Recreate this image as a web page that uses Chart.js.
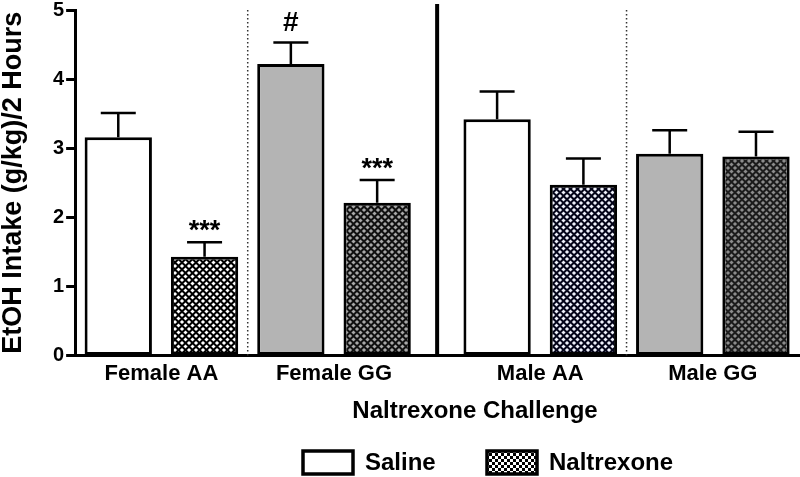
<!DOCTYPE html>
<html>
<head>
<meta charset="utf-8">
<script src="https://cdn.jsdelivr.net/npm/chart.js@4.4.1/dist/chart.umd.min.js"></script>
<style>
  html, body { margin: 0; padding: 0; background: #fff; }
  #wrap { width: 800px; height: 477px; }
</style>
</head>
<body>
<div id="wrap"><canvas id="chart"></canvas></div>
<script>
// values (g/kg per 2 h, mean and SEM)
const categories = ['Female AA', 'Female GG', 'Male AA', 'Male GG'];
const seriesNames = ['Saline', 'Naltrexone'];
const salineMeans = [3.16, 4.22, 3.42, 2.92];
const salineSem = [0.35, 0.31, 0.40, 0.34];
const naltrexoneMeans = [1.43, 2.21, 2.47, 2.88];
const naltrexoneSem = [0.21, 0.33, 0.38, 0.36];
const salineMarks = ['', '#', '', ''];
const naltrexoneMarks = ['***', '***', '', ''];
const yTicks = [0, 1, 2, 3, 4, 5];

const FONT = '"Liberation Sans", Arial, Helvetica, sans-serif';
const SEX_GAP = 0.39; // extra room between the female and male halves

// each group holds two bars side by side, males shifted right by the gap
function barX(group, series) {
    return group * 2 + series + (group >= 2 ? SEX_GAP : 0);
}
function groupCenter(group) {
    return (barX(group, 0) + barX(group, 1)) / 2;
}

function diamondPattern(lineColor, diamondColor) {
    const s = 7;
    const c = document.createElement('canvas');
    c.width = s; c.height = s;
    const g = c.getContext('2d');
    g.fillStyle = lineColor;
    g.fillRect(0, 0, s, s);
    g.fillStyle = diamondColor;
    const r = 2.1;
    [[s / 2, s / 2], [0, 0], [s, 0], [0, s], [s, s]].forEach(([cx, cy]) => {
        g.beginPath();
        g.moveTo(cx, cy - r);
        g.lineTo(cx + r, cy);
        g.lineTo(cx, cy + r);
        g.lineTo(cx - r, cy);
        g.closePath();
        g.fill();
    });
    return g.createPattern(c, 'repeat');
}

function checkerPattern() {
    const s = 6;
    const c = document.createElement('canvas');
    c.width = s; c.height = s;
    const g = c.getContext('2d');
    g.fillStyle = '#fff';
    g.fillRect(0, 0, s, s);
    g.fillStyle = '#000';
    g.fillRect(0, 0, 3, 3);
    g.fillRect(3, 3, 3, 3);
    return g.createPattern(c, 'repeat');
}

const salineFills = ['#ffffff', '#b4b4b4', '#ffffff', '#b4b4b4'];
const naltrexoneFills = [
    diamondPattern('#000000', '#ffffff'),
    diamondPattern('#111111', '#a8a8a8'),
    diamondPattern('#05051a', '#eef0fa'),
    diamondPattern('#1c1c1c', '#8c8c8c')
];

const sems = [salineSem, naltrexoneSem];
const means = [salineMeans, naltrexoneMeans];
const marks = [salineMarks, naltrexoneMarks];

const dividerPlugin = {
    id: 'dividers',
    beforeDatasetsDraw(chart) {
        const { ctx, chartArea, scales } = chart;
        const x = scales.x;
        ctx.save();
        // dotted lines between genotypes inside each sex
        ctx.strokeStyle = '#333';
        ctx.lineWidth = 1.5;
        ctx.setLineDash([1.5, 2.5]);
        [0, 2].forEach(g => {
            const px = x.getPixelForValue((barX(g, 1) + barX(g + 1, 0)) / 2);
            ctx.beginPath();
            ctx.moveTo(px, chartArea.top);
            ctx.lineTo(px, chartArea.bottom);
            ctx.stroke();
        });
        ctx.restore();
    },
    afterDraw(chart) {
        const { ctx, chartArea, scales } = chart;
        const px = scales.x.getPixelForValue((barX(1, 1) + barX(2, 0)) / 2);
        ctx.save();
        ctx.strokeStyle = '#000';
        ctx.lineWidth = 4;
        ctx.beginPath();
        ctx.moveTo(px, chartArea.top - 6);
        ctx.lineTo(px, chartArea.bottom + 1);
        ctx.stroke();
        ctx.restore();
    }
};

const errorBarPlugin = {
    id: 'errorBars',
    afterDatasetsDraw(chart) {
        const { ctx, scales } = chart;
        const y = scales.y;
        ctx.save();
        ctx.strokeStyle = '#000';
        ctx.lineWidth = 2.5;
        ctx.fillStyle = '#000';
        ctx.textAlign = 'center';
        chart.data.datasets.forEach((ds, d) => {
            const meta = chart.getDatasetMeta(d);
            meta.data.forEach((bar, i) => {
                const top = y.getPixelForValue(means[d][i] + sems[d][i]);
                const half = bar.width * 0.26;
                ctx.beginPath();
                ctx.moveTo(bar.x, bar.y);
                ctx.lineTo(bar.x, top);
                ctx.moveTo(bar.x - half, top);
                ctx.lineTo(bar.x + half, top);
                ctx.stroke();
                const txt = marks[d][i];
                if (txt) {
                    ctx.font = 'bold ' + (txt === '#' ? 28 : 27) + 'px ' + FONT;
                    ctx.textBaseline = 'alphabetic';
                    const m = ctx.measureText(txt);
                    ctx.fillText(txt, bar.x, top - 11 - m.actualBoundingBoxDescent);
                }
            });
        });
        ctx.restore();
    }
};

const bottomPlugin = {
    id: 'bottomText',
    afterDraw(chart) {
        const { ctx } = chart;
        ctx.save();
        ctx.fillStyle = '#000';
        ctx.textBaseline = 'middle';
        ctx.textAlign = 'center';
        ctx.font = 'bold 24px ' + FONT;
        ctx.fillText('Naltrexone Challenge', 475, 411);

        // legend
        const boxes = [
            { x: 303, fill: '#ffffff', label: seriesNames[0] },
            { x: 487, fill: checkerPattern(), label: seriesNames[1] }
        ];
        ctx.textAlign = 'left';
        boxes.forEach(b => {
            ctx.fillStyle = b.fill;
            ctx.fillRect(b.x, 451, 50, 23);
            ctx.strokeStyle = '#000';
            ctx.lineWidth = 3.5;
            ctx.strokeRect(b.x, 451, 50, 23);
            ctx.fillStyle = '#000';
            ctx.fillText(b.label, b.x + 62, 463);
        });
        ctx.restore();
    }
};

new Chart(document.getElementById('chart'), {
    type: 'bar',
    data: {
        datasets: [
            {
                label: seriesNames[0],
                data: categories.map((c, i) => ({ x: barX(i, 0), y: salineMeans[i] })),
                backgroundColor: salineFills,
                borderColor: '#000',
                borderWidth: 3,
                borderSkipped: false
            },
            {
                label: seriesNames[1],
                data: categories.map((c, i) => ({ x: barX(i, 1), y: naltrexoneMeans[i] })),
                backgroundColor: naltrexoneFills,
                borderColor: '#000',
                borderWidth: 3,
                borderSkipped: false
            }
        ]
    },
    options: {
        responsive: true,
        maintainAspectRatio: false,
        animation: false,
        grouped: false,
        barPercentage: 0.78,
        categoryPercentage: 1,
        layout: { padding: { top: 0, right: 0, bottom: 85, left: 0 } },
        plugins: {
            legend: { display: false },
            tooltip: { enabled: false }
        },
        scales: {
            x: {
                type: 'linear',
                offset: false,
                min: -0.5,
                max: 7.9,
                afterBuildTicks: (scale) => {
                    scale.ticks = categories.map((c, i) => ({ value: groupCenter(i) }));
                },
                ticks: {
                    autoSkip: false,
                    maxRotation: 0,
                    padding: 5,
                    color: '#000',
                    font: { family: FONT, size: 22, weight: 'bold' },
                    callback: (v, i) => categories[i]
                },
                grid: { display: true, drawOnChartArea: false, drawTicks: false },
                border: { color: '#000', width: 3 }
            },
            y: {
                min: 0,
                max: 5,
                afterBuildTicks: (scale) => {
                    scale.ticks = yTicks.map(v => ({ value: v }));
                },
                ticks: {
                    padding: 2,
                    color: '#000',
                    font: { family: FONT, size: 20, weight: 'bold', lineHeight: 0.8 }
                },
                grid: {
                    drawOnChartArea: false,
                    tickLength: 9,
                    tickColor: '#000',
                    tickWidth: 3
                },
                border: { color: '#000', width: 3 },
                title: {
                    display: true,
                    text: 'EtOH Intake (g/kg)/2 Hours',
                    color: '#000',
                    font: { family: FONT, size: 27, weight: 'bold', lineHeight: 1 },
                    padding: { top: 0, bottom: 24 }
                }
            }
        }
    },
    plugins: [dividerPlugin, errorBarPlugin, bottomPlugin]
});
</script>
</body>
</html>
